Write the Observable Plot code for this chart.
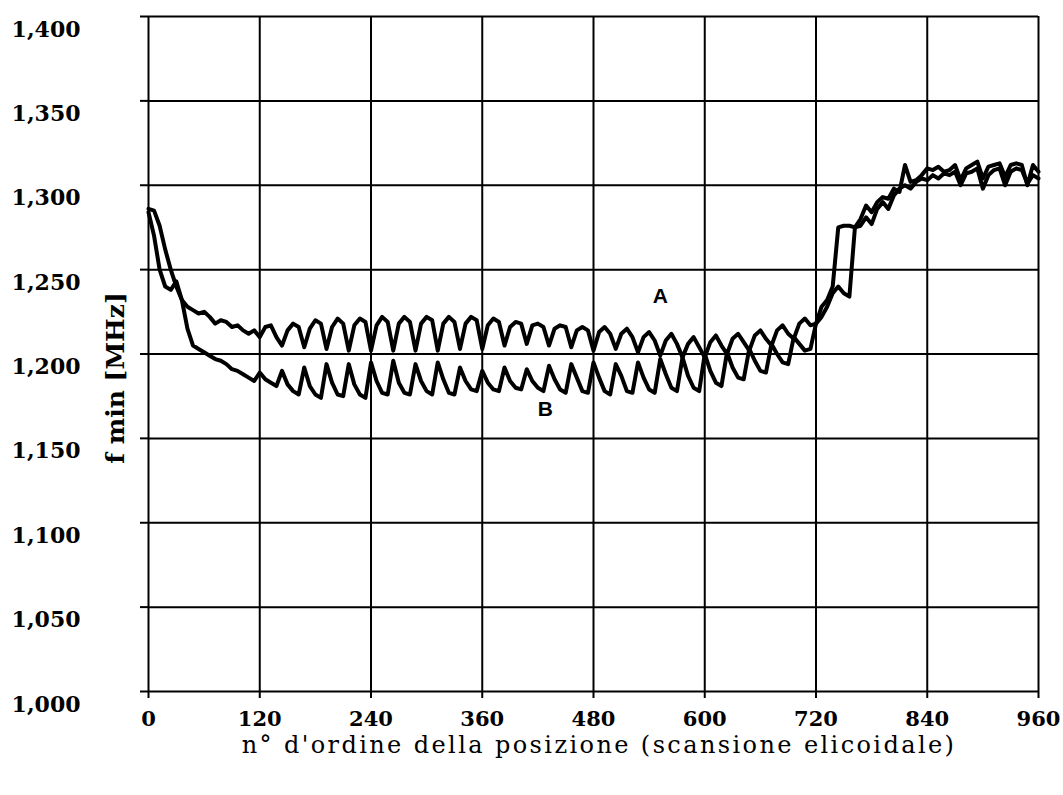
<!DOCTYPE html>
<html><head><meta charset="utf-8">
<script src="https://cdn.jsdelivr.net/npm/d3@7"></script>
<script src="https://cdn.jsdelivr.net/npm/@observablehq/plot@0.6"></script>
<style>
body{margin:0;background:#fff;}
#xlabel{font-family:"DejaVu Serif",serif;font-size:24px;letter-spacing:2.4px;line-height:30px;height:30px;text-align:center;margin-left:160px;margin-right:25px;color:#000;white-space:nowrap;}
</style>
</head><body>
<div id="chart"></div>
<div id="xlabel">n° d'ordine della posizione (scansione elicoidale)</div>
<script>
// position index (every 6 positions of the helical scan)
const positions = d3.range(0, 961, 6);

// series A (upper curve), 4 samples per 24-position turn
const serieA = [
 1.286,1.285,1.276,1.262, 1.250,1.240,1.232,1.228, 1.226,1.224,1.225,1.222, 1.218,1.220,1.219,1.216,
 1.217,1.214,1.212,1.214, 1.210,1.216,1.217,1.210, 1.205,1.214,1.218,1.216, 1.204,1.215,1.220,1.218,
 1.203,1.216,1.221,1.218, 1.202,1.217,1.221,1.219, 1.202,1.217,1.222,1.219, 1.202,1.218,1.222,1.219,
 1.202,1.218,1.222,1.220, 1.202,1.218,1.222,1.219, 1.203,1.218,1.222,1.220, 1.203,1.217,1.221,1.219,
 1.205,1.216,1.219,1.218, 1.206,1.217,1.218,1.216, 1.205,1.215,1.217,1.216, 1.204,1.214,1.216,1.214,
 1.202,1.213,1.216,1.212, 1.203,1.212,1.215,1.210, 1.201,1.210,1.213,1.208, 1.199,1.208,1.212,1.206,
 1.198,1.206,1.210,1.204, 1.198,1.207,1.211,1.205, 1.200,1.209,1.212,1.207, 1.202,1.211,1.214,1.209,
 1.205,1.214,1.217,1.212, 1.209,1.218,1.221,1.217, 1.218,1.228,1.232,1.240, 1.275,1.276,1.276,1.275,
 1.280,1.288,1.284,1.290, 1.293,1.292,1.298,1.296, 1.312,1.302,1.303,1.306, 1.310,1.309,1.311,1.308,
 1.309,1.312,1.303,1.310, 1.312,1.314,1.304,1.311, 1.312,1.313,1.305,1.312, 1.313,1.312,1.300,1.312,
 1.308
];

// series B (lower curve)
const serieB = [
 1.284,1.270,1.250,1.240, 1.238,1.243,1.232,1.215, 1.205,1.203,1.201,1.199, 1.197,1.196,1.194,1.191,
 1.190,1.188,1.186,1.184, 1.189,1.185,1.183,1.181, 1.190,1.182,1.178,1.176, 1.192,1.181,1.176,1.174,
 1.194,1.183,1.176,1.175, 1.194,1.182,1.176,1.174, 1.195,1.184,1.177,1.176, 1.196,1.183,1.177,1.176,
 1.194,1.184,1.178,1.176, 1.195,1.185,1.177,1.176, 1.192,1.184,1.179,1.178, 1.190,1.183,1.179,1.178,
 1.192,1.184,1.180,1.179, 1.191,1.184,1.180,1.178, 1.193,1.185,1.179,1.177, 1.194,1.186,1.178,1.177,
 1.195,1.186,1.178,1.176, 1.194,1.187,1.178,1.177, 1.195,1.186,1.179,1.177, 1.197,1.188,1.180,1.178,
 1.198,1.187,1.180,1.178, 1.200,1.190,1.183,1.181, 1.201,1.192,1.186,1.185, 1.203,1.196,1.190,1.189,
 1.206,1.200,1.195,1.194, 1.210,1.206,1.202,1.203, 1.218,1.222,1.228,1.236, 1.240,1.236,1.234,1.275,
 1.276,1.281,1.277,1.286, 1.290,1.286,1.294,1.298, 1.300,1.298,1.302,1.304, 1.303,1.306,1.304,1.307,
 1.306,1.308,1.300,1.307, 1.308,1.310,1.298,1.306, 1.309,1.310,1.300,1.308, 1.310,1.309,1.301,1.306,
 1.304
];

const xTicks = [0, 120, 240, 360, 480, 600, 720, 840, 960];
const yTicks = [1.000, 1.050, 1.100, 1.150, 1.200, 1.250, 1.300, 1.350, 1.400];
const seriesNames = ["A", "B"];
const seriesLabelX = [552, 428];
const seriesLabelY = [1.234, 1.167];

const data = [
  ...positions.map((x, i) => ({x, y: serieA[i], s: "A"})),
  ...positions.map((x, i) => ({x, y: serieB[i], s: "B"}))
];
const labels = seriesNames.map((n, i) => ({n, x: seriesLabelX[i], y: seriesLabelY[i]}));
const fmt = d => d.toFixed(3).replace(".", ",");

const chart = Plot.plot({
  width: 1063, height: 730,
  marginLeft: 148, marginRight: 25, marginTop: 16, marginBottom: 39,
  x: {domain: [0, 960]},
  y: {domain: [1.0, 1.4]},
  style: {fontFamily: "DejaVu Serif", color: "black", background: "white"},
  marks: [
    Plot.gridY(yTicks, {stroke: "black", strokeOpacity: 1, strokeWidth: 2}),
    Plot.gridX(xTicks, {stroke: "black", strokeOpacity: 1, strokeWidth: 2}),
    Plot.axisY(yTicks, {tickSize: 8, tickFormat: () => "", strokeWidth: 2, label: null}),
    Plot.axisY(yTicks, {tickSize: 0, tickPadding: 68, dy: 13, tickFormat: fmt, fontSize: 22, fontWeight: "bold", label: null}),
    Plot.axisX(xTicks, {tickSize: 7, tickPadding: 13, fontSize: 21, fontWeight: "bold", strokeWidth: 2, label: null}),
    Plot.line(data, {x: "x", y: "y", z: "s", stroke: "black", strokeWidth: 4, strokeLinejoin: "round"}),
    Plot.text(labels, {x: "x", y: "y", text: "n", fontFamily: "Liberation Sans", fontWeight: "bold", fontSize: 21}),
    Plot.text(["f min [MHz]"], {frameAnchor: "left", textAnchor: "middle", dx: -33, dy: 24, rotate: -90, fontSize: 25, fontWeight: "bold"})
  ]
});
document.getElementById("chart").appendChild(chart);
</script>
</body></html>
